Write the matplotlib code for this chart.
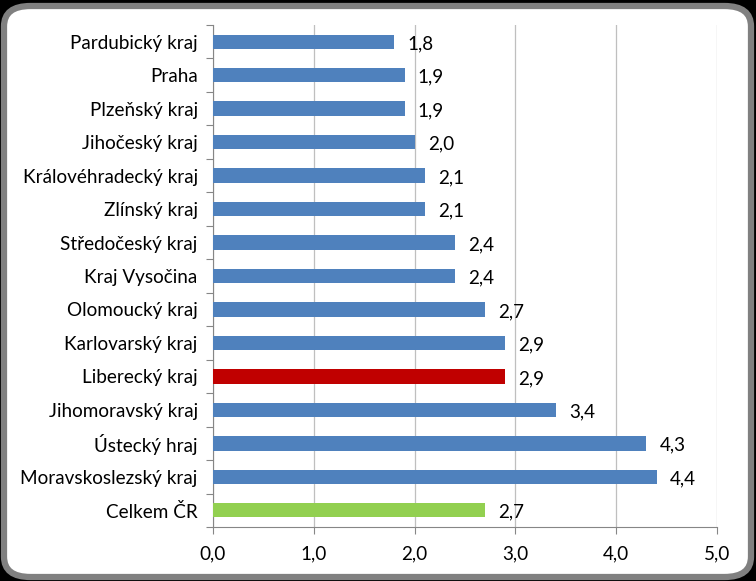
import matplotlib
matplotlib.use('Agg')
import matplotlib.pyplot as plt
from matplotlib.patches import FancyBboxPatch

# data (top to bottom)
regions = ['Pardubický kraj', 'Praha', 'Plzeňský kraj', 'Jihočeský kraj',
           'Královéhradecký kraj', 'Zlínský kraj', 'Středočeský kraj',
           'Kraj Vysočina', 'Olomoucký kraj', 'Karlovarský kraj',
           'Liberecký kraj', 'Jihomoravský kraj', 'Ústecký hraj',
           'Moravskoslezský kraj', 'Celkem ČR']
values = [1.8, 1.9, 1.9, 2.0, 2.1, 2.1, 2.4, 2.4, 2.7, 2.9, 2.9, 3.4, 4.3, 4.4, 2.7]
x_ticks = [0, 1, 2, 3, 4, 5]

BLUE = '#4F81BD'
RED = '#C00000'
GREEN = '#92D050'
colors = [BLUE] * len(regions)
colors[regions.index('Liberecký kraj')] = RED
colors[regions.index('Celkem ČR')] = GREEN

plt.rcParams['font.family'] = ['Lato', 'DejaVu Sans']
FS = 13.6

W, H = 756, 581
fig = plt.figure(figsize=(W / 100, H / 100), dpi=100, facecolor='black')

# rounded frame
frame = FancyBboxPatch((4 / W, 4 / H), (W - 9) / W, (H - 10) / H,
                       boxstyle='round,pad=0,rounding_size=0.035',
                       transform=fig.transFigure, facecolor='white',
                       edgecolor='#808080', linewidth=4.5, zorder=-1)
fig.patches.append(frame)

ax = fig.add_axes([213 / W, 1 - 527 / H, (717 - 213) / W, (527 - 25) / H])
ax.set_zorder(1)
ax.set_facecolor('none')

pos = list(range(len(regions)))
ax.barh(pos, values, height=0.43, color=colors, zorder=3)
ax.set_ylim(len(regions) - 0.5, -0.5)
ax.set_xlim(0, 5)

for p, v in zip(pos, values):
    ax.text(v + 0.13, p + 0.06, f'{v:.1f}'.replace('.', ','), va='center', ha='left',
            fontsize=FS, color='black', zorder=4)

ax.set_yticks(pos)
ax.set_yticklabels(regions, fontsize=FS)
ax.set_yticks([p - 0.5 for p in range(len(regions) + 1)], minor=True)
ax.tick_params(axis='y', which='major', length=0, pad=11)
ax.tick_params(axis='y', which='minor', length=5, color='#868686', width=0.8)

ax.set_xticks(x_ticks)
ax.set_xticklabels([f'{t:.1f}'.replace('.', ',') for t in x_ticks], fontsize=FS)
ax.tick_params(axis='x', length=5, color='#868686', width=0.8, pad=8)
ax.grid(axis='x', color='#BFBFBF', linewidth=0.9, zorder=0)

for s in ['top', 'right']:
    ax.spines[s].set_visible(False)
for s in ['left', 'bottom']:
    ax.spines[s].set_color('#868686')
    ax.spines[s].set_linewidth(0.8)

fig.savefig('out.png', dpi=100, facecolor=fig.get_facecolor())
